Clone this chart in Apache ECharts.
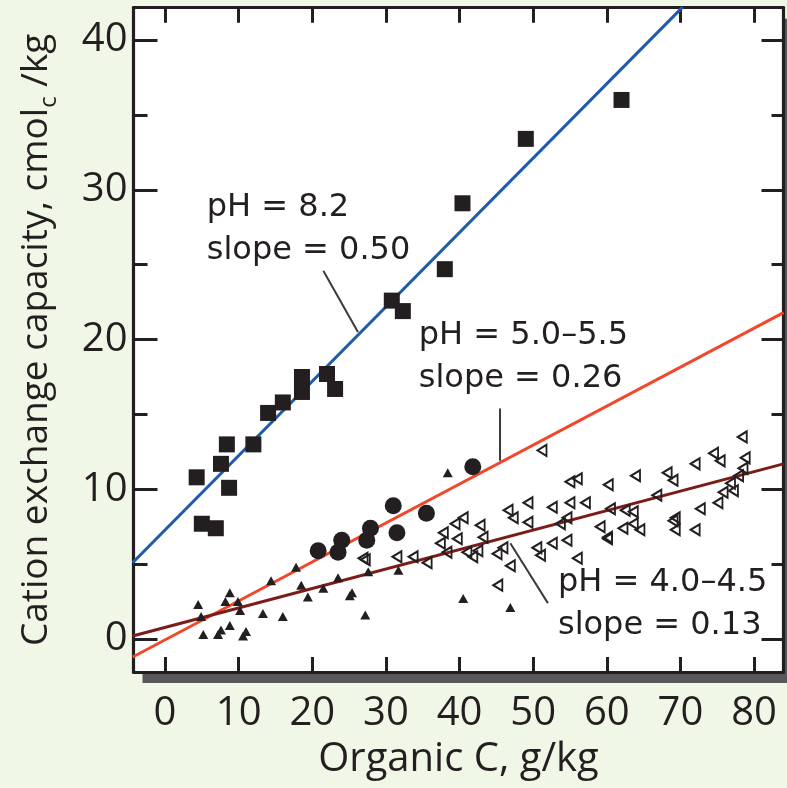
<!DOCTYPE html>
<html><head><meta charset="utf-8">
<script src="https://cdn.jsdelivr.net/npm/echarts@6/dist/echarts.min.js"></script>
<style>html,body{margin:0;padding:0;background:#f1f7e7;}#c{width:787px;height:788px;}</style>
</head><body><div id="c"></div>
<script>
// ---- data ----
const xTicks = [0, 10, 20, 30, 40, 50, 60, 70, 80];
const yMajorTicks = [0, 10, 20, 30, 40];
const yMinorTicks = [5, 15, 25, 35];

const squaresPH82 = [
  [4.3, 10.8], [5.0, 7.7], [6.9, 7.4], [7.6, 11.7], [8.7, 10.1], [8.4, 13.0],
  [12.0, 13.0], [14.0, 15.1], [16.0, 15.8], [18.6, 17.5], [18.6, 16.5],
  [22.0, 17.7], [23.1, 16.7], [30.8, 22.6], [32.3, 21.9], [38.0, 24.7],
  [40.4, 29.1], [49.0, 33.4], [62.0, 36.0]
];
const circlesPH50 = [
  [20.8, 5.9], [23.5, 5.8], [24.0, 6.6], [27.4, 6.6], [27.9, 7.4],
  [31.5, 7.1], [31.0, 8.9], [35.5, 8.4], [41.8, 11.5]
];
const filledTrianglesPH40 = [
  [4.5, 2.3], [4.9, 1.5], [5.2, 0.3], [7.2, 0.3], [7.6, 0.6], [8.8, 0.9],
  [8.8, 3.1], [8.2, 2.5], [9.9, 2.5], [10.2, 1.9], [10.6, 0.2], [11.0, 0.5],
  [13.3, 1.7], [14.4, 3.9], [16.0, 1.5], [17.8, 4.8], [18.5, 3.6], [19.4, 2.8],
  [21.5, 3.4], [23.5, 4.1], [25.1, 2.9], [25.4, 3.1], [27.2, 1.6], [27.6, 4.5],
  [31.7, 4.6], [38.4, 11.1], [40.5, 2.7], [46.9, 2.1]
];
const openTrianglesPH40 = [
  [26.9, 5.4], [27.2, 5.3], [31.5, 5.5], [33.7, 5.5], [35.6, 5.1], [37.8, 7.1],
  [39.4, 7.7], [40.5, 8.1], [39.7, 6.7], [37.4, 6.4], [38.3, 5.8], [41.0, 5.8],
  [41.8, 5.5], [51.2, 12.6], [56.0, 10.7], [55.0, 10.5], [60.2, 10.3],
  [49.3, 9.1], [46.6, 8.6], [47.3, 8.1], [52.6, 8.8], [55.0, 9.1], [57.1, 9.1],
  [60.5, 8.7], [62.5, 8.6], [49.3, 7.8], [53.7, 7.7], [54.6, 8.1], [42.8, 7.6],
  [43.2, 6.8], [42.5, 5.9], [45.9, 6.1], [45.1, 5.7], [46.9, 4.9], [50.5, 6.1],
  [52.6, 6.4], [54.6, 6.6], [56.0, 5.4], [51.0, 5.6], [60.1, 6.7], [62.2, 7.4],
  [59.1, 7.5], [45.2, 3.6], [78.4, 13.5], [74.5, 12.4], [75.4, 11.9],
  [72.0, 11.7], [68.2, 11.1], [69.0, 10.6], [63.9, 10.9], [78.8, 12.1],
  [78.5, 11.4], [76.8, 10.4], [75.8, 9.8], [75.1, 9.1], [72.7, 8.7],
  [66.8, 9.6], [63.6, 8.5], [63.6, 7.7], [64.5, 7.3], [69.3, 8.1], [69.3, 7.3],
  [72.0, 7.3], [77.9, 10.9], [77.2, 9.9], [69.0, 7.9], [60.1, 6.8]
];

const fitPH82 = [[-4.4, 5.1], [70.3, 42.2]];
const fitPH50 = [[-4.4, -1.2], [84, 21.8]];
const fitPH40 = [[-4.4, 0.2], [84, 11.7]];

const leaderPH82 = [[21.5, 24.6], [26.2, 20.5]];
const leaderPH50 = [[45.5, 15.4], [45.5, 11.9]];
const leaderPH40 = [[46.9, 6.4], [52.0, 2.4]];

const notePositions = [[5.6, 27.4], [34.4, 18.8], [53.3, 2.3]];
const noteLines1 = ['pH = 8.2', 'pH = 5.0–5.5', 'pH = 4.0–4.5'];
const noteLines2 = ['slope = 0.50', 'slope = 0.26', 'slope = 0.13'];

// ---- chart ----
const INK = '#231f20';
const FONT = '"Open Sans", "Noto Sans", sans-serif';
const NOTE_FONT = '"DejaVu Sans", sans-serif';
const chart = echarts.init(document.getElementById('c'), null, {renderer: 'canvas'});

const xRange = {min: -4.28, max: 84.0};
const yRange = {min: -2.2, max: 42.16};

function xAx(pos, showLabel) {
  return {
    type: 'value', position: pos, ...xRange,
    axisLine: {show: true, onZero: false, lineStyle: {color: INK, width: 3.2}},
    splitLine: {show: false},
    axisTick: {show: true, inside: true, length: 15, customValues: xTicks, lineStyle: {color: INK, width: 3}},
    axisLabel: showLabel ? {show: true, customValues: xTicks, fontSize: 40, fontFamily: FONT, color: INK, margin: 22} : {show: false},
    name: showLabel ? 'Organic C, g/kg' : '',
    nameLocation: 'middle', nameGap: 68,
    nameTextStyle: {fontSize: 40, fontFamily: FONT, color: INK}
  };
}
function yAx(pos, ticks, len, showLabel, showLine) {
  const o = {
    type: 'value', position: pos, ...yRange,
    axisLine: {show: showLine, onZero: false, lineStyle: {color: INK, width: 3.2}},
    splitLine: {show: false},
    axisTick: {show: true, inside: true, length: len, customValues: ticks, lineStyle: {color: INK, width: 3}},
    axisLabel: showLabel ? {show: true, customValues: ticks, fontSize: 40, fontFamily: FONT, color: INK, margin: 6} : {show: false}
  };
  if (showLabel) {
    o.name = '{n|Cation exchange capacity, cmol}{s|c}{n| /kg}';
    o.nameLocation = 'middle';
    o.nameGap = 72;
    o.nameTextStyle = {
      fontFamily: FONT, color: INK,
      rich: {
        n: {fontSize: 37, fontFamily: FONT, color: INK, lineHeight: 50, verticalAlign: 'middle'},
        s: {fontSize: 24, fontFamily: FONT, color: INK, lineHeight: 50, verticalAlign: 'bottom'}
      }
    };
  }
  return o;
}

const lineSeries = (data, color, width, z) => ({
  type: 'line', data, showSymbol: false, symbol: 'none', silent: true,
  lineStyle: {color, width}, z, xAxisIndex: 0, yAxisIndex: 0, animation: false
});

chart.setOption({
  animation: false,
  backgroundColor: '#f1f7e7',
  grid: {
    show: true, left: 133.5, top: 7.7, right: 3.5, bottom: 116,
    backgroundColor: '#ffffff', borderWidth: 0, borderColor: 'rgba(0,0,0,0)',
    shadowColor: '#58585a', shadowBlur: 0, shadowOffsetX: 9, shadowOffsetY: 11
  },
  xAxis: [xAx('bottom', true), xAx('top', false)],
  yAxis: [
    yAx('left', yMajorTicks, 24, true, true),
    yAx('left', yMinorTicks, 14, false, false),
    yAx('right', yMajorTicks, 22, false, true),
    yAx('right', yMinorTicks, 12, false, false)
  ],
  series: [
    lineSeries(fitPH82, '#1f5bab', 3, 2),
    lineSeries(fitPH50, '#f2472a', 3, 2),
    lineSeries(fitPH40, '#7b1c18', 3, 2),
    lineSeries(leaderPH82, '#3c3a3b', 2, 2),
    lineSeries(leaderPH50, '#3c3a3b', 2, 2),
    lineSeries(leaderPH40, '#3c3a3b', 2, 2),
    {type: 'scatter', data: openTrianglesPH40, symbol: 'triangle', symbolRotate: 90, symbolSize: [11, 9],
     itemStyle: {color: 'rgba(255,255,255,0)', borderColor: INK, borderWidth: 2, opacity: 1}, z: 3},
    {type: 'scatter', data: filledTrianglesPH40, symbol: 'triangle', symbolSize: [10, 9],
     itemStyle: {color: INK, opacity: 1}, z: 3},
    {type: 'scatter', data: circlesPH50, symbol: 'circle', symbolSize: 17, itemStyle: {color: INK, opacity: 1}, z: 4},
    {type: 'scatter', data: squaresPH82, symbol: 'rect', symbolSize: 16, itemStyle: {color: INK, opacity: 1}, z: 4},
    {type: 'scatter', symbolSize: 1, itemStyle: {color: 'rgba(0,0,0,0)', opacity: 1}, z: 5, silent: true,
     data: notePositions.map((p, i) => ({value: p, l1: noteLines1[i], l2: noteLines2[i]})),
     label: {show: true, position: 'right', distance: 0, align: 'left', verticalAlign: 'middle',
       formatter: p => p.data.l1 + '\n' + p.data.l2,
       fontSize: 32, lineHeight: 43, fontFamily: NOTE_FONT, color: INK, opacity: 1}}
  ]
});
</script></body></html>
